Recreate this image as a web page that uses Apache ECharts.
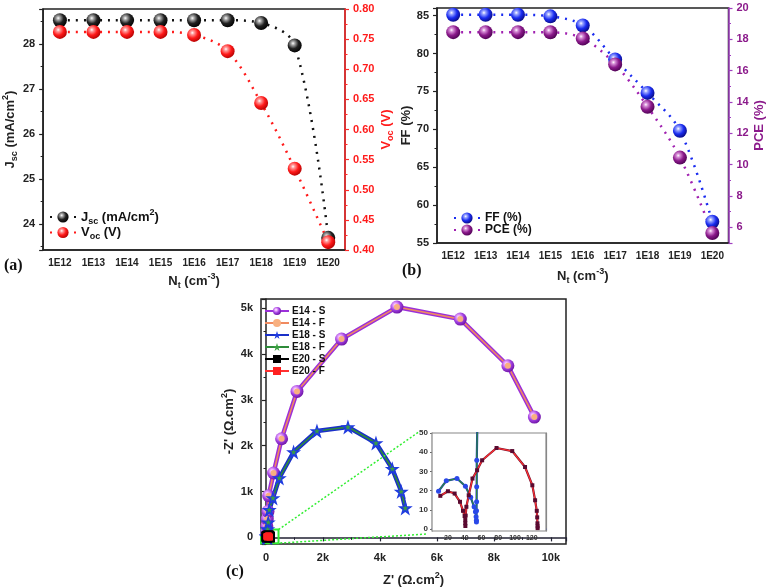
<!DOCTYPE html>
<html><head><meta charset="utf-8">
<script src="https://cdn.jsdelivr.net/npm/echarts@6/dist/echarts.min.js"></script>
<style>html,body{margin:0;padding:0;background:#fff}#c{width:767px;height:588px}</style>
</head><body><div id="c"></div>
<script>
// ---- Data ----
const ntCategories = ['1E12','1E13','1E14','1E15','1E16','1E17','1E18','1E19','1E20'];
const jscValues = [28.53,28.53,28.53,28.53,28.53,28.53,28.47,27.97,23.69];
const vocValues = [0.762,0.762,0.762,0.762,0.757,0.730,0.644,0.535,0.413];
const ffValues  = [85.1,85.1,85.1,84.9,83.7,79.2,74.8,69.8,57.8];
const pceValues = [18.46,18.46,18.46,18.45,18.05,16.4,13.7,10.45,5.64];

const e14Re = [20,30,45,70,93,267,548,1088,2653,4596,6820,8490,9420];
const e14Im = [120,250,400,566,908,1403,2150,3181,4322,5020,4758,3741,2623];
const e18Re = [8.8,18,30.8,40.9,47.2,51.2,52.8,53.6,54,54,54.1,54.2,54.3,54.4,60,80,116,245,467,969,1789,2877,3860,4432,4747,4888];
const e18Im = [19.7,25.1,26.3,22.3,16.5,11.6,9,6.4,4.6,3.7,9.5,14.2,22,35.8,180,330,603,858,1294,1861,2318,2405,2056,1497,1002,640];
const e20Re = [10.9,20,28,34.4,38,39.9,40.7,40.7,40.8,41.2,42,44.8,49.3,54.8,60.8,78,96.7,112,120.7,124,126,126.5,126.8,127,127];
const e20Im = [17.3,19.7,18.5,14.2,9.5,6.8,4.7,3,1.6,7,11.6,17.6,26.3,30.6,35.8,42.2,40.6,32.3,22.8,15,9.5,6.1,3,1.4,0.5];

const pairs = (a,b) => a.map((v,i)=>[v,b[i]]);
const e14 = pairs(e14Re,e14Im), e18 = pairs(e18Re,e18Im), e20 = pairs(e20Re,e20Im);

// ---- Styles ----
const FONT = 'Liberation Sans, Arial, sans-serif';
const STAR = 'path://M50,0 L61.8,35.5 L99,35.5 L69,57.5 L80.5,93 L50,71 L19.5,93 L31,57.5 L1,35.5 L38.2,35.5 Z';
const sphere = (hi, mid, lo) => ({type:'radial', x:0.38, y:0.35, r:0.7,
  colorStops:[{offset:0,color:'#ffffff'},{offset:0.18,color:hi},{offset:0.55,color:mid},{offset:1,color:lo}]});
const richBase = (size, color) => ({
  b:{fontSize:size, fontWeight:'bold', color:color, fontFamily:FONT, lineHeight:size+5},
  s:{fontSize:size-4, fontWeight:'bold', color:color, fontFamily:FONT, verticalAlign:'bottom'},
  p:{fontSize:size-4, fontWeight:'bold', color:color, fontFamily:FONT, verticalAlign:'top'}
});
const lbl = (size,color) => ({fontSize:size, fontWeight:'bold', color:color||'#222', fontFamily:FONT});
const axLine = (color,w) => ({show:true, lineStyle:{color:color, width:w||1.5}});
const ntName = '{b|N}{s|t}{b| (cm}{p|-3}{b|)}';

const chart = echarts.init(document.getElementById('c'), null, {renderer:'canvas'});

const dotted = (color) => ({color:color, width:2.5, type:[2,6]});

const option = {
  animation:false,
  backgroundColor:'#fff',
  grid:[
    {left:43, top:9, width:302, height:241, show:true, borderColor:'#222', borderWidth:1.5, backgroundColor:'transparent'},
    {left:437, top:8, width:294, height:235, show:true, borderColor:'#222', borderWidth:1.5, backgroundColor:'transparent'},
    {left:261, top:299, width:305, height:245, show:true, borderColor:'#222', borderWidth:1.5, backgroundColor:'transparent'},
    {left:432, top:433, width:114, height:98, show:true, borderColor:'#888', borderWidth:1.2, backgroundColor:'#fff', z:3}
  ],
  xAxis:[
    {gridIndex:0, type:'category', data:ntCategories, boundaryGap:true,
     axisLine:axLine('#222'), axisTick:{alignWithLabel:true, length:4, lineStyle:{width:1.2}},
     axisLabel:lbl(10), name:ntName, nameLocation:'middle', nameGap:22,
     nameTextStyle:{rich:richBase(13,'#222')}},
    {gridIndex:1, type:'category', data:ntCategories, boundaryGap:true,
     axisLine:axLine('#222'), axisTick:{alignWithLabel:true, length:4, lineStyle:{width:1.2}},
     axisLabel:lbl(10), name:ntName, nameLocation:'middle', nameGap:24,
     nameTextStyle:{rich:richBase(13,'#222')}},
    {gridIndex:2, type:'value', min:-175, max:10530, splitLine:{show:false},
     axisLine:axLine('#223'), axisTick:{length:4, lineStyle:{width:1.2}},
     minorTick:{show:true, splitNumber:2, length:2.5}, 
     axisLabel:Object.assign(lbl(11), {showMinLabel:false, showMaxLabel:false,
       formatter:v=> v===0?'0':(v/1000)+'k'}),
     name:"{b|Z' (\u03A9.cm}{p|2}{b|)}", nameLocation:'middle', nameGap:27,
     nameTextStyle:{rich:richBase(13,'#222')}},
    {gridIndex:3, type:'value', min:1, max:137, splitNumber:7, splitLine:{show:false},
     axisLine:axLine('#3a4a9a',1.2), axisTick:{length:2, lineStyle:{color:'#666'}},
     axisLabel:Object.assign(lbl(7,'#333'), {margin:4, showMinLabel:false, showMaxLabel:false})},
    {gridIndex:3, type:'value', position:'top', min:1, max:137, splitLine:{show:false},
     axisLine:axLine('#3a4acf',1.5), axisTick:{show:false}, axisLabel:{show:false}}
  ],
  yAxis:[
    {gridIndex:0, type:'value', min:23.42, max:28.78, splitLine:{show:false},
     axisLine:axLine('#222'), axisTick:{show:true, length:4, lineStyle:{width:1.2}},
     minorTick:{show:true, splitNumber:2, length:2.5},
     axisLabel:Object.assign(lbl(11), {showMinLabel:false, showMaxLabel:false}),
     name:'{b|J}{s|sc}{b| (mA/cm}{p|2}{b|)}', nameLocation:'middle', nameRotate:90, nameGap:24,
     nameTextStyle:{rich:richBase(13,'#222')}},
    {gridIndex:0, type:'value', position:'right', min:0.40, max:0.80, interval:0.05, splitLine:{show:false},
     axisLine:axLine('#ff2a2a'), axisTick:{show:true, length:4, lineStyle:{color:'#ff2a2a', width:1.2}},
     minorTick:{show:true, splitNumber:2, length:2.5, lineStyle:{color:'#ff2a2a'}},
     axisLabel:Object.assign(lbl(11,'#ff1a1a'), {formatter:v=>v.toFixed(2)}),
     name:'{b|V}{s|oc}{b| (V)}', nameLocation:'middle', nameRotate:90, nameGap:32,
     nameTextStyle:{rich:richBase(13,'#ff1a1a')}},
    {gridIndex:1, type:'value', min:55, max:86, interval:5, splitLine:{show:false},
     axisLine:axLine('#222'), axisTick:{show:true, length:4, lineStyle:{width:1.2}},
     minorTick:{show:true, splitNumber:2, length:2.5},
     axisLabel:Object.assign(lbl(11), {showMaxLabel:false}),
     name:'{b|FF (%)}', nameLocation:'middle', nameRotate:90, nameGap:22,
     nameTextStyle:{rich:richBase(13,'#222')}},
    {gridIndex:1, type:'value', position:'right', min:5, max:20, splitNumber:7, splitLine:{show:false},
     axisLine:axLine('#a040c0'), axisTick:{show:true, length:4, lineStyle:{color:'#a040c0', width:1.2}},
     minorTick:{show:true, splitNumber:2, length:2.5, lineStyle:{color:'#a040c0'}},
     axisLabel:Object.assign(lbl(11,'#8b1a8b'), {showMinLabel:false}),
     name:'{b|PCE (%)}', nameLocation:'middle', nameRotate:90, nameGap:22,
     nameTextStyle:{rich:richBase(13,'#8b1a8b')}},
    {gridIndex:2, type:'value', min:-144, max:5196, splitLine:{show:false},
     axisLine:axLine('#222'), axisTick:{length:4, lineStyle:{width:1.2}},
     minorTick:{show:true, splitNumber:2, length:2.5},
     axisLabel:Object.assign(lbl(11), {showMinLabel:false, showMaxLabel:false,
       formatter:v=> v===0?'0':(v/1000)+'k'}),
     name:"{b|-Z' (\u03A9.cm}{p|2}{b|)}", nameLocation:'middle', nameRotate:90, nameGap:23,
     nameTextStyle:{rich:richBase(13,'#222')}},
    {gridIndex:3, type:'value', min:-1, max:50, splitLine:{show:false},
     axisLine:axLine('#888',1.2), axisTick:{length:2, lineStyle:{color:'#666'}},
     axisLabel:Object.assign(lbl(8,'#333'), {margin:4, showMinLabel:false})},
    {gridIndex:3, type:'value', position:'right', min:-1, max:50, splitLine:{show:false},
     axisLine:axLine('#888',1.2), axisTick:{show:false}, axisLabel:{show:false}}
  ],
  legend:[
    {left:44, top:203, orient:'vertical', itemGap:0, itemWidth:26, itemHeight:14,
     data:['Jsc','Voc'],
     formatter:n=> n==='Jsc' ? '{b|J}{s|sc}{b| (mA/cm}{p|2}{b|)}' : '{b|V}{s|oc}{b| (V)}',
     textStyle:{rich:richBase(13,'#111')}},
    {left:448, top:207, orient:'vertical', itemGap:0, itemWidth:26, itemHeight:14,
     data:['FF','PCE'],
     formatter:n=> n==='FF' ? '{b|FF (%)}' : '{b|PCE (%)}',
     textStyle:{rich:richBase(12,'#111')}},
    {left:259, top:300, orient:'vertical', itemGap:0, itemWidth:24, itemHeight:10,
     data:['E14 - S','E14 - F','E18 - S','E18 - F','E20 - S','E20 - F'],
     textStyle:{fontSize:10, fontWeight:'bold', fontFamily:FONT, color:'#111', lineHeight:12, padding:[0,0,0,-2]}}
  ],
  graphic:[
    {type:'text', left:4, top:258, style:{text:'(a)', font:'bold 16px "Liberation Serif", serif', fill:'#111'}},
    {type:'text', left:402, top:263, style:{text:'(b)', font:'bold 16px "Liberation Serif", serif', fill:'#111'}},
    {type:'text', left:226, top:564, style:{text:'(c)', font:'bold 16px "Liberation Serif", serif', fill:'#111'}}
  ],
  series:[
    {name:'Jsc', type:'line', xAxisIndex:0, yAxisIndex:0, data:jscValues, smooth:0.35,
     symbol:'circle', symbolSize:14, lineStyle:dotted('#111'),
     itemStyle:{color:sphere('#aaaaaa','#222222','#000000')}},
    {name:'Voc', type:'line', xAxisIndex:0, yAxisIndex:1, data:vocValues, smooth:0.35,
     symbol:'circle', symbolSize:14, lineStyle:dotted('#ff1a1a'),
     itemStyle:{color:sphere('#ff9a9a','#ff1a1a','#b00000')}},
    {name:'FF', type:'line', xAxisIndex:1, yAxisIndex:2, data:ffValues, smooth:0.35,
     symbol:'circle', symbolSize:14, lineStyle:dotted('#1a2cf0'),
     itemStyle:{color:sphere('#9aa6ff','#1a2cf0','#08087a')}},
    {name:'PCE', type:'line', xAxisIndex:1, yAxisIndex:3, data:pceValues, smooth:0.35,
     symbol:'circle', symbolSize:14, lineStyle:dotted('#a020b0'),
     itemStyle:{color:sphere('#d890d8','#8b1a8b','#4a0050')}},

    // main Nyquist
    {name:'E14 - S', type:'line', xAxisIndex:2, yAxisIndex:4, data:e14, symbol:'circle', symbolSize:13,
     lineStyle:{color:'#9b30d9', width:4.5}, itemStyle:{color:sphere('#f0b0ff','#a040e0','#6a10a0')}},
    {name:'E14 - F', type:'line', xAxisIndex:2, yAxisIndex:4, data:e14, symbol:'circle', symbolSize:6,
     lineStyle:{color:'#f08a60', width:1.6}, itemStyle:{color:'#f8b080'}},
    {name:'E18 - S', type:'line', xAxisIndex:2, yAxisIndex:4, data:e18, symbol:STAR, symbolSize:15,
     lineStyle:{color:'#1a30c8', width:4.5}, itemStyle:{color:'#1f3be0'}},
    {name:'E18 - F', type:'line', xAxisIndex:2, yAxisIndex:4, data:e18, symbol:STAR, symbolSize:6,
     lineStyle:{color:'#2e8b3a', width:1.6}, itemStyle:{color:'#3aa040'}},
    {name:'E20 - S', type:'line', xAxisIndex:2, yAxisIndex:4, data:e20, symbol:'rect', symbolSize:10,
     lineStyle:{color:'#000', width:4.5}, itemStyle:{color:'#000'}},
    {name:'E20 - F', type:'line', xAxisIndex:2, yAxisIndex:4, data:e20, symbol:'rect', symbolSize:6,
     lineStyle:{color:'#ff3030', width:1.6}, itemStyle:{color:'#ff2020'},
     markArea:{silent:true, itemStyle:{color:'rgba(0,0,0,0)', borderColor:'#33ee33', borderWidth:2},
       data:[[{coord:[-190,-125]},{coord:[440,170]}]]},
     markLine:{silent:true, symbol:'none', label:{show:false},
       lineStyle:{color:'#33ee33', type:[2,2], width:1.5},
       data:[[{coord:[440,170]},{coord:[5390,2310]}],[{coord:[500,-122]},{coord:[5650,74]}]]}},

    // inset
    {name:'E14 - S', type:'line', xAxisIndex:3, yAxisIndex:6, data:e14, symbol:'circle', symbolSize:5, z:4,
     lineStyle:{color:'#9b30d9', width:2}, itemStyle:{color:'#9b30d9'}},
    {name:'E18 - S', type:'line', xAxisIndex:3, yAxisIndex:6, data:e18, symbol:'circle', symbolSize:5, z:4,
     lineStyle:{color:'#1a30c8', width:2.2}, itemStyle:{color:'#2a48e8'}},
    {name:'E18 - F', type:'line', xAxisIndex:3, yAxisIndex:6, data:e18, symbol:'none', z:4,
     lineStyle:{color:'#2e8b3a', width:1.3}},
    {name:'E20 - S', type:'line', xAxisIndex:3, yAxisIndex:6, data:e20, symbol:'rect', symbolSize:4, z:4,
     lineStyle:{color:'#701030', width:2.2}, itemStyle:{color:'#5a0a30'}},
    {name:'E20 - F', type:'line', xAxisIndex:3, yAxisIndex:6, data:e20, symbol:'none', z:4,
     lineStyle:{color:'#ff3030', width:1.2}}
  ]
};
chart.setOption(option);
</script></body></html>
